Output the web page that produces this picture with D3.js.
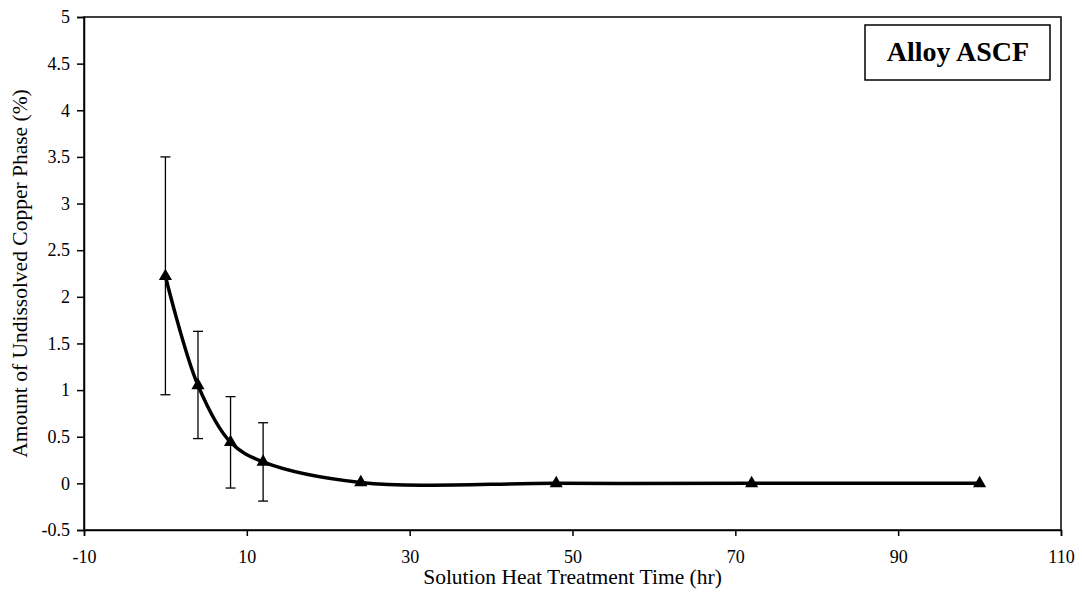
<!DOCTYPE html>
<meta charset="utf-8" />
<script src="https://d3js.org/d3.v7.min.js"></script>
<style>
  body { margin: 0; background: #fff; }
  text { font-family: "Liberation Serif", "Times New Roman", serif; fill: #000; }
</style>
<div id="chart"></div>
<script>
  // data
  const hours = [0, 4, 8, 12, 24, 48, 72, 100];
  const amount = [2.22, 1.05, 0.44, 0.23, 0.01, 0, 0, 0];
  const errLow = [0.95, 0.48, -0.05, -0.19, null, null, null, null];
  const errHigh = [3.5, 1.63, 0.93, 0.65, null, null, null, null];
  const xTicks = [-10, 10, 30, 50, 70, 90, 110];
  const yTicks = [-0.5, 0, 0.5, 1, 1.5, 2, 2.5, 3, 3.5, 4, 4.5, 5];
  const legendLabel = "Alloy ASCF";

  const W = 1082, H = 596;
  const margin = { top: 17, right: 21, bottom: 66, left: 84 };
  const width = W - margin.left - margin.right,
    height = H - margin.top - margin.bottom;

  const svg = d3.select("#chart").append("svg")
    .attr("width", W).attr("height", H);
  const g = svg.append("g")
    .attr("transform", `translate(${margin.left},${margin.top})`);

  const x = d3.scaleLinear().domain([-10, 110]).range([0, width]);
  const y = d3.scaleLinear().domain([-0.5, 5]).range([height, 0]);

  // frame
  g.append("rect")
    .attr("width", width).attr("height", height)
    .attr("fill", "none").attr("stroke", "#000").attr("stroke-width", 1.5);

  // axes (plain hyphen for negatives, like the original)
  const fmt = d => String(d);
  const xAxis = g.append("g")
    .attr("transform", `translate(0,${height})`)
    .call(d3.axisBottom(x).tickValues(xTicks).tickSize(6).tickPadding(14).tickFormat(fmt));
  const yAxis = g.append("g")
    .call(d3.axisLeft(y).tickValues(yTicks).tickSize(7).tickPadding(7).tickFormat(fmt));
  [xAxis, yAxis].forEach(a => {
    a.attr("font-family", null).attr("font-size", null);
    a.select(".domain").attr("stroke", "#000").attr("stroke-width", 1.5);
    a.selectAll(".tick line").attr("stroke", "#000").attr("stroke-width", 1.5);
    a.selectAll("text").style("font-size", "18px");
  });

  // axis titles
  svg.append("text")
    .attr("x", margin.left + x(50)).attr("y", 584)
    .attr("text-anchor", "middle").style("font-size", "21.5px")
    .text("Solution Heat Treatment Time (hr)");
  svg.append("text")
    .attr("transform", `translate(27,${margin.top + height / 2}) rotate(-90)`)
    .attr("text-anchor", "middle").style("font-size", "21.5px")
    .text("Amount of Undissolved Copper Phase (%)");

  const pts = hours.map((h, i) => ({ h, v: amount[i], lo: errLow[i], hi: errHigh[i] }));

  // error bars
  const eb = g.selectAll(".eb").data(pts.filter(d => d.lo !== null)).join("g")
    .attr("stroke", "#000").attr("stroke-width", 1.3);
  eb.append("line")
    .attr("x1", d => x(d.h)).attr("x2", d => x(d.h))
    .attr("y1", d => y(d.lo)).attr("y2", d => y(d.hi));
  eb.append("line")
    .attr("x1", d => x(d.h) - 5).attr("x2", d => x(d.h) + 5)
    .attr("y1", d => y(d.lo)).attr("y2", d => y(d.lo));
  eb.append("line")
    .attr("x1", d => x(d.h) - 5).attr("x2", d => x(d.h) + 5)
    .attr("y1", d => y(d.hi)).attr("y2", d => y(d.hi));

  // smoothed line
  const line = d3.line()
    .x(d => x(d.h)).y(d => y(d.v))
    .curve(d3.curveCatmullRom.alpha(0.5));
  g.append("path").datum(pts)
    .attr("d", line).attr("fill", "none")
    .attr("stroke", "#000").attr("stroke-width", 3.5);

  // triangle markers
  const tri = d3.symbol().type(d3.symbolTriangle).size(75);
  g.selectAll(".mk").data(pts).join("path")
    .attr("d", tri)
    .attr("transform", d => `translate(${x(d.h)},${y(d.v)})`)
    .attr("fill", "#000");

  // legend box
  svg.append("rect")
    .attr("x", 865).attr("y", 25).attr("width", 185).attr("height", 55)
    .attr("fill", "#fff").attr("stroke", "#000").attr("stroke-width", 1.5);
  svg.append("text")
    .attr("x", 958).attr("y", 61)
    .attr("text-anchor", "middle").style("font-size", "28px").style("font-weight", "bold")
    .text(legendLabel);
</script>
